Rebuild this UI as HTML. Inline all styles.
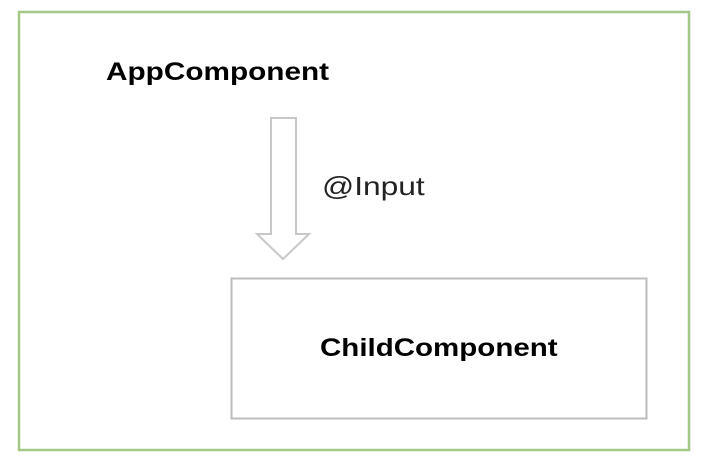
<!DOCTYPE html>
<html><head><style>
html,body{margin:0;padding:0;background:#fff;width:712px;height:458px;overflow:hidden}
.t{position:absolute;font-family:"Liberation Sans",sans-serif;color:#000;white-space:nowrap;transform-origin:0 0}
</style></head><body>
<svg width="712" height="458" style="position:absolute;left:0;top:0">
<rect x="19" y="12" width="670" height="438" fill="none" stroke="#a3c888" stroke-width="2.5"/>
<rect x="231.5" y="278.5" width="415" height="140" fill="none" stroke="#bdbdbd" stroke-width="2"/>
<polygon points="271,118 296,118 296,234 309,234 283,259 257,234 271,234" fill="#fff" stroke="#c8c8c8" stroke-width="2"/>
</svg>
<div class="t" style="left:106px;top:58px;font-size:25px;font-weight:bold;transform:scaleX(1.19)">AppComponent</div>
<div class="t" style="left:320px;top:334px;font-size:25px;font-weight:bold;transform:scaleX(1.18)">ChildComponent</div>
<div class="t" style="left:322px;top:171px;font-size:26px;color:#222;transform:scaleX(1.22)">@Input</div>
</body></html>
